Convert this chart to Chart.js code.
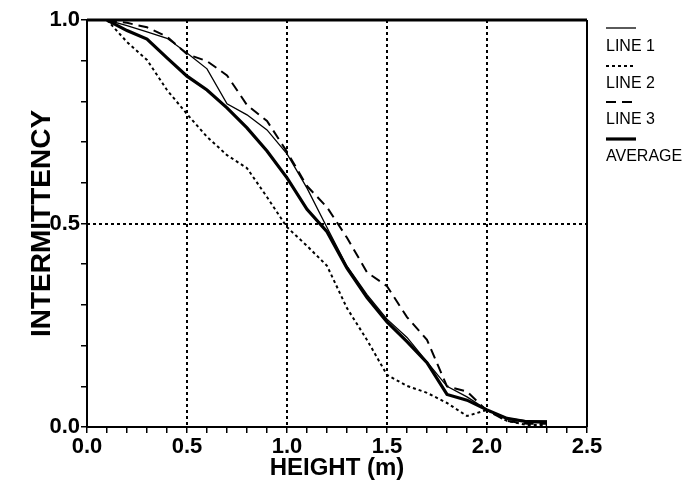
<!DOCTYPE html>
<html>
<head>
<meta charset="utf-8">
<script src="https://cdn.jsdelivr.net/npm/chart.js@4.4.1/dist/chart.umd.min.js"></script>
<style>
  html, body { margin: 0; padding: 0; background: #fff; }
  #wrap { width: 685px; height: 484px; }
</style>
</head>
<body>
<div id="wrap"><canvas id="chart" width="685" height="484"></canvas></div>
<script>
/* ----------------------------- */
/* DATA                          */
/* ----------------------------- */
const heights = [0.1, 0.2, 0.3, 0.4, 0.5, 0.6, 0.7, 0.8, 0.9, 1.0, 1.1, 1.2,
  1.3, 1.4, 1.5, 1.6, 1.7, 1.8, 1.9, 2.0, 2.1, 2.2, 2.3];

const line1 = [1.0, 0.986, 0.971, 0.955, 0.919, 0.880, 0.794, 0.767, 0.730, 0.671, 0.587, 0.490,
  0.395, 0.325, 0.265, 0.220, 0.160, 0.100, 0.074, 0.042, 0.022, 0.015, 0.015];
const line2 = [1.0, 0.946, 0.902, 0.828, 0.769, 0.713, 0.668, 0.636, 0.565, 0.491, 0.445, 0.396,
  0.292, 0.214, 0.128, 0.101, 0.084, 0.059, 0.027, 0.042, 0.015, 0.005, 0.005];
const line3 = [1.0, 0.993, 0.982, 0.959, 0.916, 0.899, 0.864, 0.791, 0.752, 0.676, 0.592, 0.540,
  0.465, 0.380, 0.346, 0.270, 0.214, 0.100, 0.087, 0.040, 0.015, 0.008, 0.008];
const average = [1.0, 0.974, 0.953, 0.907, 0.862, 0.828, 0.784, 0.735, 0.678, 0.612, 0.535, 0.480,
  0.390, 0.318, 0.258, 0.210, 0.158, 0.080, 0.066, 0.042, 0.021, 0.013, 0.012];

const legendLabels = ["LINE 1", "LINE 2", "LINE 3", "AVERAGE"];
const xGridValues = [0.5, 1.0, 1.5, 2.0];
const yGridValues = [0.5];

const FONT = "'Liberation Sans', Arial, Helvetica, sans-serif";

/* ----------------------------- */
/* HELPERS                       */
/* ----------------------------- */
const toPoints = (values) => values.map((v, i) => ({ x: heights[i], y: v }));
const isHalf = (v) => Math.round(v * 10) % 5 === 0;

const seriesStyles = [
  { borderWidth: 1.3, borderDash: [] },
  { borderWidth: 2, borderDash: [3, 3] },
  { borderWidth: 2, borderDash: [10, 6] },
  { borderWidth: 3.2, borderDash: [] },
];

// dotted grid + box on the plot
const boxPlugin = {
  id: "box",
  beforeDatasetsDraw(chart) {
    const { ctx, chartArea: a, scales: { x, y } } = chart;
    ctx.save();
    ctx.strokeStyle = "#000";
    ctx.lineWidth = 2;
    ctx.setLineDash([3, 3]);
    xGridValues.forEach((v) => {
      const px = Math.round(x.getPixelForValue(v));
      ctx.beginPath(); ctx.moveTo(px, a.top); ctx.lineTo(px, a.bottom); ctx.stroke();
    });
    yGridValues.forEach((v) => {
      const py = Math.round(y.getPixelForValue(v));
      ctx.beginPath(); ctx.moveTo(a.left, py); ctx.lineTo(a.right, py); ctx.stroke();
    });
    ctx.setLineDash([]);
    ctx.lineWidth = 3;
    ctx.beginPath(); ctx.moveTo(a.left, a.top); ctx.lineTo(a.right, a.top); ctx.stroke();
    ctx.lineWidth = 2;
    ctx.beginPath(); ctx.moveTo(a.right, a.top); ctx.lineTo(a.right, a.bottom); ctx.stroke();
    ctx.restore();
  },
};

// legend at the right: sample line above each label
const legendPlugin = {
  id: "sideLegend",
  afterDraw(chart) {
    const { ctx } = chart;
    const x0 = 606, x1 = 636;
    const sampleY = [28, 66, 102, 139];
    const textY = [47, 84, 120, 157];
    ctx.save();
    legendLabels.forEach((label, i) => {
      const st = seriesStyles[i];
      ctx.strokeStyle = "#000";
      ctx.lineWidth = st.borderWidth;
      ctx.setLineDash(st.borderDash);
      ctx.beginPath(); ctx.moveTo(x0, sampleY[i]); ctx.lineTo(x1, sampleY[i]); ctx.stroke();
      ctx.setLineDash([]);
      ctx.fillStyle = "#000";
      ctx.font = "16px " + FONT;
      ctx.textBaseline = "middle";
      ctx.fillText(label, x0, textY[i]);
    });
    ctx.restore();
  },
};

/* ----------------------------- */
/* CHART                         */
/* ----------------------------- */
const datasets = [line1, line2, line3, average].map((values, i) => ({
  label: legendLabels[i],
  data: toPoints(values),
  borderColor: "#000",
  borderWidth: seriesStyles[i].borderWidth,
  borderDash: seriesStyles[i].borderDash,
  pointRadius: 0,
  tension: 0,
  fill: false,
}));

new Chart(document.getElementById("chart"), {
  type: "line",
  data: { datasets },
  options: {
    responsive: false,
    animation: false,
    devicePixelRatio: 1,
    layout: { padding: { top: 20, right: 98, left: 0, bottom: 0 } },
    plugins: { legend: { display: false }, tooltip: { enabled: false } },
    scales: {
      x: {
        type: "linear",
        min: 0,
        max: 2.5,
        afterFit: (scale) => { scale.height = 57; },
        border: { display: true, color: "#000", width: 2 },
        grid: { drawOnChartArea: false, drawTicks: true, tickLength: 6, color: "#000", lineWidth: 1.5 },
        ticks: {
          stepSize: 0.1,
          autoSkip: false,
          maxRotation: 0,
          padding: 1,
          color: "#000",
          font: { family: FONT, size: 22, weight: "bold" },
          callback: (v) => (isHalf(v) ? Number(v).toFixed(1) : ""),
        },
        title: {
          display: true,
          text: "HEIGHT (m)",
          color: "#000",
          font: { family: FONT, size: 24, weight: "bold" },
          padding: { top: 0, bottom: 1 },
        },
      },
      y: {
        type: "linear",
        min: 0,
        max: 1,
        afterFit: (scale) => { scale.width = 87; },
        border: { display: true, color: "#000", width: 2 },
        grid: { drawOnChartArea: false, drawTicks: true, tickLength: 6, color: "#000", lineWidth: 1.5 },
        ticks: {
          stepSize: 0.1,
          autoSkip: false,
          padding: 1,
          color: "#000",
          font: { family: FONT, size: 22, weight: "bold" },
          callback: (v) => (isHalf(v) ? Number(v).toFixed(1) : ""),
        },
        title: {
          display: true,
          text: "INTERMITTENCY",
          color: "#000",
          font: { family: FONT, size: 28, weight: "bold" },
          padding: { top: 25, bottom: 0 },
        },
      },
    },
  },
  plugins: [boxPlugin, legendPlugin],
});
</script>
</body>
</html>
